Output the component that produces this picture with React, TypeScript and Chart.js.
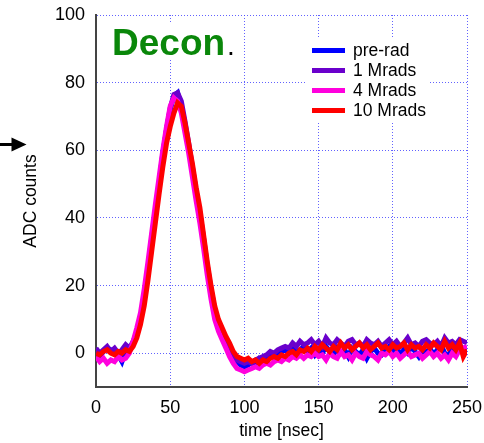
import React, { useEffect, useRef } from "react";
import { Chart, registerables } from "chart.js";

Chart.register(...registerables);

const times = [
  0, 2.5, 5, 7.5, 10, 12.5, 15, 17.5, 20, 22.5,
  25, 27.5, 30, 32.5, 35, 37.5, 40, 42.5, 45, 47.5,
  50, 52.5, 55, 57.5, 60, 62.5, 65, 67.5, 70, 72.5,
  75, 77.5, 80, 82.5, 85, 87.5, 90, 92.5, 95, 97.5,
  100, 102.5, 105, 107.5, 110, 112.5, 115, 117.5, 120, 122.5,
  125, 127.5, 130, 132.5, 135, 137.5, 140, 142.5, 145, 147.5,
  150, 152.5, 155, 157.5, 160, 162.5, 165, 167.5, 170, 172.5,
  175, 177.5, 180, 182.5, 185, 187.5, 190, 192.5, 195, 197.5,
  200, 202.5, 205, 207.5, 210, 212.5, 215, 217.5, 220, 222.5,
  225, 227.5, 230, 232.5, 235, 237.5, 240, 242.5, 245, 247.5,
  250,
];

const preRad = [
  0.5, -1, 0.5, 1.5, 1, 0, -0.5, -2.5, 0.5, 1,
  3, 6, 10.5, 17, 25, 34, 42, 50, 59, 66,
  72, 76, 77, 73, 67, 61, 54, 47, 41, 33,
  25, 18, 12, 8, 5.5, 3, 1, -1, -2.5, -3.5,
  -4, -3.5, -2.5, -3, -1.5, -2, -1, -0.5, 0, -0.5,
  0.5, 1, 0, 1.5, 0.5, 1, 2, 0.5, 1.5, -0.5,
  1, 0, 2, 0.5, -0.5, 1.5, 0, 1, -1, 1.5,
  0.5, -0.5, 1, -1.5, 0.5, 1.5, 0, -0.5, 1, 2,
  0.5, 1.5, -0.5, 1, 0, 2, 0.5, -1, 1, 0,
  1.5, -0.5, 1, 2.5, 0, -1, 1.5, 0.5, 2.5, 1,
  2,
];

const oneMrad = [
  1.5, 0, 1, 2, 0.5, 1.5, 0, 1, 2.5, 1.5,
  3.5, 6, 10, 16.5, 24.5, 33, 41.5, 50, 58.5, 66,
  72.5, 76.5, 77, 74.5, 68.5, 62, 55, 48, 41.5, 34,
  26, 19, 13, 9, 6, 3.5, 1.5, -0.5, -2, -2.5,
  -3, -2.5, -3, -2, -1.5, -1, -0.5, 0.5, 0, 1,
  1.5, 2, 1.5, 3, 2, 3.5, 2.5, 3, 4, 2.5,
  3.5, 2, 4.5, 3, 2.5, 4, 3, 2, 3.5, 4,
  2.5, 3, 2, 4, 3, 2.5, 3.5, 2, 3, 4,
  2.5, 3.5, 2, 3, 4.5, 2.5, 3, 2, 3.5, 4,
  3, 2.5, 3.5, 2, 4.5, 3, 3.5, 2.5, 4, 3.5,
  3,
];

const fourMrad = [
  -1, -2.5, -1.5, -3, -2, -2.5, -1, -2, -1.5, 0,
  3.5, 7.5, 12, 19, 27, 35.5, 44, 52, 60, 67,
  73, 75.5, 74.5, 71, 65, 59, 52, 45, 38.5, 31,
  23, 16, 10, 6.5, 4, 1.5, -1, -3, -4.5, -5,
  -5.5, -5, -4.5, -4, -4.5, -3.5, -3, -3.5, -2.5, -2,
  -2.5, -1.5, -2, -1, -1.5, -0.5, -1.5, -0.5, -1, 0,
  -1, -0.5, -2, 0, -1, -1.5, 0.5, -1, -0.5, -2,
  0, -1, -1.5, 0.5, -0.5, -1, -2, 0, -0.5, 0.5,
  -1, 0, -1.5, -0.5, 0.5, -1, -0.5, 0, -1.5, -0.5,
  0.5, -1, 0, -1.5, -0.5, -2, 0, -1, 1, 1.5,
  2,
];

const tenMrad = [
  0, -0.5, 0.5, 1, 0, -0.5, 0.5, 0, 1, 0.5,
  2, 4.5, 8.5, 14, 21.5, 30, 38.5, 47, 55, 62,
  67, 71, 74, 73, 68, 62, 56, 49, 43, 35,
  27, 20, 14, 10, 7.5, 5, 3, 0.5, -1, -1.5,
  -2, -1.5, -2.5, -2, -3, -2, -2.5, -1.5, -1, -1.5,
  -0.5, -1, 0, 0.5, -0.5, 1, 0.5, 1.5, 0.5, 2,
  1, 2.5, 1.5, 0.5, 2, 1, 3, 1.5, 2.5, 1,
  2, 3, 1.5, 2.5, 1, 2, 3, 1.5, 2, 1,
  2.5, 1.5, 2, 3, 1, 2.5, 1.5, 2, 1, 2.5,
  1.5, 3, 2, 1, 3.5, 1.5, 2.5, 1, 3, -1,
  1,
];

const seriesNames = ["pre-rad", "1 Mrads", "4 Mrads", "10 Mrads"];
const seriesColors = ["#0000ff", "#6a00cc", "#ff00dd", "#ff0000"];
const seriesValues = [preRad, oneMrad, fourMrad, tenMrad];

const xTickValues = [0, 50, 100, 150, 200, 250];
const yTickValues = [0, 20, 40, 60, 80, 100];

const FONT = '"Liberation Sans", Arial, Helvetica, sans-serif';

const decorPlugin = {
  id: "decor",
  afterDraw(chart: any) {
    const ctx = chart.ctx as CanvasRenderingContext2D;
    ctx.save();
    // Decon. label
    ctx.fillStyle = "#ffffff";
    ctx.fillRect(108, 24, 128, 36);
    ctx.font = `bold 37px ${FONT}`;
    ctx.textBaseline = "alphabetic";
    ctx.textAlign = "left";
    ctx.fillStyle = "#0a870a";
    ctx.fillText("Decon", 112, 55);
    const w = ctx.measureText("Decon").width;
    ctx.fillStyle = "#000000";
    ctx.font = `28px ${FONT}`;
    ctx.fillText(".", 112 + w + 2, 55);

    // legend
    ctx.fillStyle = "#ffffff";
    ctx.fillRect(307, 37, 121, 85);
    ctx.font = `17.5px ${FONT}`;
    ctx.textBaseline = "middle";
    seriesNames.forEach((name, i) => {
      const y = 50.5 + 20 * i;
      ctx.strokeStyle = seriesColors[i];
      ctx.lineWidth = 5;
      ctx.beginPath();
      ctx.moveTo(312, y);
      ctx.lineTo(345, y);
      ctx.stroke();
      ctx.fillStyle = "#000000";
      ctx.fillText(name, 353, y + 1);
    });

    // arrow on the left
    ctx.strokeStyle = "#000000";
    ctx.fillStyle = "#000000";
    ctx.lineWidth = 3;
    ctx.beginPath();
    ctx.moveTo(0, 144.5);
    ctx.lineTo(14, 144.5);
    ctx.stroke();
    ctx.beginPath();
    ctx.moveTo(11.5, 137.5);
    ctx.lineTo(26.5, 144.5);
    ctx.lineTo(11.5, 151.5);
    ctx.closePath();
    ctx.fill();
    ctx.restore();
  },
};

export default function App() {
  const ref = useRef<HTMLCanvasElement | null>(null);

  useEffect(() => {
    if (!ref.current) return;
    Chart.defaults.font.family = FONT;
    Chart.defaults.color = "#000000";
    const gridColor = "rgba(70,70,255,0.85)";
    const chart = new Chart(ref.current, {
      type: "line",
      data: {
        datasets: seriesNames.map((name, i) => ({
          label: name,
          data: times.map((t, k) => ({ x: t, y: seriesValues[i][k] })),
          borderColor: seriesColors[i],
          backgroundColor: seriesColors[i],
          borderWidth: 5,
          pointRadius: 0,
          tension: 0,
          fill: false,
          order: 4 - i,
        })),
      },
      options: {
        responsive: false,
        animation: false,
        events: [],
        layout: { padding: { left: 0, top: 15, right: 17, bottom: 0 } },
        plugins: {
          legend: { display: false },
          tooltip: { enabled: false },
        },
        scales: {
          x: {
            type: "linear",
            min: 0,
            max: 250,
            afterBuildTicks: (s: any) => {
              s.ticks = xTickValues.map((v) => ({ value: v }));
            },
            afterFit: (s: any) => {
              s.height = 56;
              s.paddingLeft = 0;
              s.paddingRight = 0;
            },
            ticks: {
              font: { size: 18 },
              color: "#000",
              padding: 10,
              maxRotation: 0,
            },
            grid: {
              color: gridColor,
              lineWidth: 1,
              drawTicks: false,
            },
            border: { display: true, color: "#444444", width: 2, dash: [1, 2] },
            title: {
              display: true,
              text: "time [nsec]",
              font: { size: 17.5 },
              color: "#000",
              padding: { top: 0, bottom: 1.5 },
            },
          },
          y: {
            type: "linear",
            min: -10,
            max: 100,
            afterBuildTicks: (s: any) => {
              s.ticks = yTickValues.map((v) => ({ value: v }));
            },
            afterFit: (s: any) => {
              s.width = 96;
              s.paddingTop = 0;
              s.paddingBottom = 0;
            },
            ticks: {
              font: { size: 18 },
              color: "#000",
              padding: 11,
            },
            grid: {
              color: gridColor,
              lineWidth: 1,
              drawTicks: false,
            },
            border: { display: true, color: "#444444", width: 2, dash: [1, 2] },
            title: {
              display: true,
              text: "ADC counts",
              font: { size: 17.5 },
              color: "#000",
              padding: { top: 21, bottom: 0 },
            },
          },
        },
      },
      plugins: [decorPlugin],
    } as any);
    return () => chart.destroy();
  }, []);

  return (
    <div style={{ position: "fixed", left: 0, top: 0, width: 484, height: 443, background: "#fff" }}>
      <canvas ref={ref} width={484} height={443} style={{ display: "block" }} />
    </div>
  );
}
